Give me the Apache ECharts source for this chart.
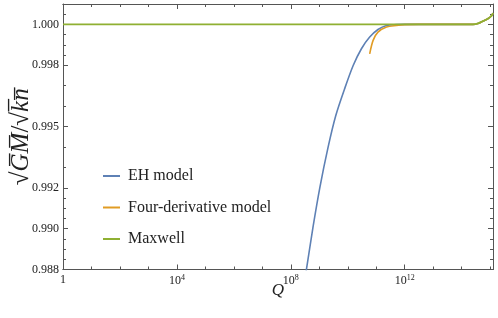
<!DOCTYPE html>
<html>
<head>
<meta charset="utf-8">
<script src="https://cdn.jsdelivr.net/npm/echarts@6/dist/echarts.min.js"></script>
<style>html,body{margin:0;padding:0;background:#fff}#c{width:498px;height:318px}</style>
</head>
<body>
<div id="c"></div>
<script>
// Data (Q values, ratio values)
var ehQ   = [2.0e8, 3.55e8, 6.0e8, 1.05e9, 2.04e9, 3.8e9, 7.76e9, 1.55e10, 3.02e10, 5.89e10, 1.15e11, 2.29e11, 5.13e11, 1.0e12, 3.16e12, 2.5e14, 4e14, 5.6e14, 8.3e14, 1.1e15, 1.26e15];
var ehY   = [0.9858, 0.98802, 0.99006, 0.99202, 0.99399, 0.99554, 0.99685, 0.99799, 0.99881, 0.99938, 0.99975, 0.99995, 0.99999, 1.0, 1.0, 1.0, 1.00006, 1.00016, 1.00028, 1.00041, 1.00055];
var fdQ   = [5.89e10, 7.76e10, 1.15e11, 2.29e11, 5.13e11, 1.0e12, 3.16e12, 2.5e14, 4e14, 5.6e14, 8.3e14, 1.1e15, 1.26e15];
var fdY   = [0.99856, 0.99922, 0.99962, 0.99987, 0.99995, 0.99999, 1.0, 1.0, 1.00006, 1.00016, 1.00028, 1.00041, 1.00055];
var mxQ   = [1, 1e4, 1e8, 1e12, 2.5e14, 4e14, 5.6e14, 8.3e14, 1.1e15, 1.26e15];
var mxY   = [1.0, 1.0, 1.0, 1.0, 1.0, 1.00006, 1.00016, 1.00028, 1.00041, 1.00055];
var yMajor = [0.988, 0.990, 0.992, 0.995, 0.998, 1.000];
var yMinor = [0.9885, 0.989, 0.9895, 0.9905, 0.991, 0.9915, 0.993, 0.994, 0.996, 0.997, 0.9985, 0.999, 0.9995, 1.0005];
var seriesNames = ['EH model', 'Four-derivative model', 'Maxwell'];
var colors = ['#5E81B5', '#E19C24', '#8FB032'];

function pairs(xs, ys) { return xs.map(function (x, i) { return [x, ys[i]]; }); }

var axisCol = '#555';
var font = '"Liberation Serif", "DejaVu Serif", serif';
var xMin = 1, xMax = 1.26e15, yMin = 0.988, yMax = 1.001;

function xAx(pos, labels, interval, len) {
  return {
    type: 'log', logBase: 10, min: xMin, max: xMax, interval: interval, position: pos,
    axisLine: { show: true, onZero: false, lineStyle: { color: axisCol, width: 1 } },
    axisTick: { show: true, inside: true, length: len, lineStyle: { color: axisCol } },
    splitLine: { show: false },
    axisLabel: labels ? {
      show: true, margin: 4, color: '#222', fontFamily: font, fontSize: 12,
      showMaxLabel: false,
      formatter: function (v) {
        var e = Math.round(Math.log10(v));
        if (e === 0) return '{b|1}';
        if (e % 4 !== 0) return '';
        return '{b|10}{s|' + e + '}';
      },
      rich: { b: { fontSize: 12, fontFamily: font, color: '#222' }, s: { fontSize: 8, fontFamily: font, color: '#222', padding: [0, 0, 7, 0] } }
    } : { show: false }
  };
}
function yAx(pos, vals, len, labels, showLine) {
  return {
    type: 'value', min: yMin, max: yMax, position: pos,
    axisLine: { show: showLine, onZero: false, lineStyle: { color: axisCol, width: 1 } },
    axisTick: { show: true, inside: true, length: len, customValues: vals, lineStyle: { color: axisCol } },
    splitLine: { show: false },
    axisLabel: labels ? {
      show: true, customValues: vals, margin: 4, color: '#222', fontFamily: font, fontSize: 12,
      formatter: function (v) { return v.toFixed(3); }
    } : { show: false }
  };
}

var yName = yAx('left', yMajor, 5, true, true);
yName.name = '\u221A{i|G\u0305M\u0305}/\u221A{i|k\u0305n\u0305}';
yName.nameLocation = 'middle';
yName.nameRotate = 90;
yName.nameGap = 29;
yName.nameMoveOverlap = false;
yName.nameTextStyle = { fontFamily: font, fontSize: 25, color: '#222', rich: { i: { fontFamily: font, fontSize: 25, fontStyle: 'italic', color: '#222' } } };

var xMain = xAx('bottom', true, 4, 5);
xMain.name = 'Q';
xMain.nameLocation = 'middle';
xMain.nameGap = 13;
xMain.nameMoveOverlap = false;
xMain.nameTextStyle = { fontFamily: font, fontSize: 17, fontStyle: 'italic', color: '#222', verticalAlign: 'top' };

var chart = echarts.init(document.getElementById('c'), null, { renderer: 'canvas' });
chart.setOption({
  animation: false,
  backgroundColor: '#fff',
  grid: { left: 63, right: 5, top: 4, bottom: 48.5, containLabel: false },
  xAxis: [xMain, xAx('bottom', false, 1, 3), xAx('top', false, 4, 5), xAx('top', false, 1, 3)],
  yAxis: [yName, yAx('left', yMinor, 3, false, false), yAx('right', yMajor, 5, false, true), yAx('right', yMinor, 3, false, false)],
  legend: {
    orient: 'vertical', left: 98, top: 163, itemWidth: 17, itemHeight: 2, itemGap: 15.5,
    icon: 'rect', data: seriesNames,
    textStyle: { fontFamily: font, fontSize: 16, color: '#222', padding: [0, 0, 0, 3] }
  },
  series: [
    { name: seriesNames[0], type: 'line', data: pairs(ehQ, ehY), showSymbol: false, symbol: 'none', smooth: 0.3, clip: true, lineStyle: { color: colors[0], width: 1.6 }, itemStyle: { color: colors[0] }, z: 2 },
    { name: seriesNames[1], type: 'line', data: pairs(fdQ, fdY), showSymbol: false, symbol: 'none', smooth: 0.3, clip: true, lineStyle: { color: colors[1], width: 1.6 }, itemStyle: { color: colors[1] }, z: 3 },
    { name: seriesNames[2], type: 'line', data: pairs(mxQ, mxY), showSymbol: false, symbol: 'none', smooth: 0.3, clip: true, lineStyle: { color: colors[2], width: 1.8 }, itemStyle: { color: colors[2] }, z: 4 }
  ]
});
</script>
</body>
</html>
